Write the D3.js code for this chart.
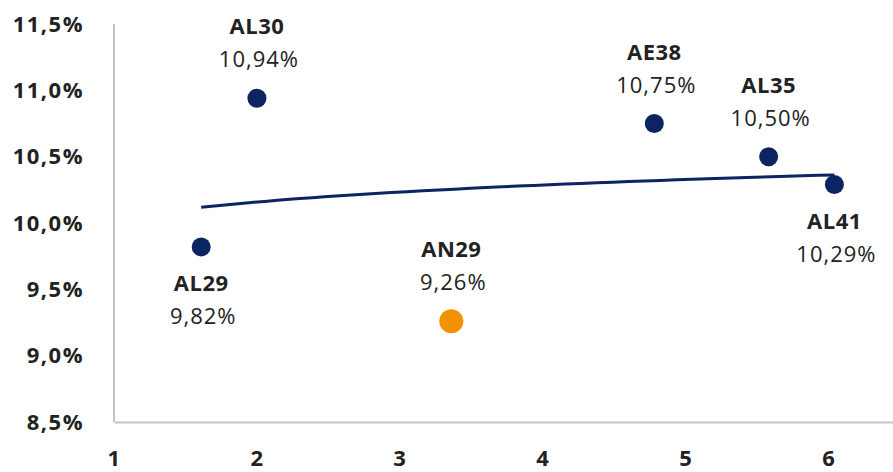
<!DOCTYPE html>
<html>
<head>
<meta charset="utf-8">
<script src="https://d3js.org/d3.v7.min.js"></script>
<style>
  body { margin: 0; background: #fff; }
  text { font-family: "Open Sans", sans-serif; fill: #222; }
</style>
</head>
<body>
<div id="chart"></div>
<script>

// bond names, duration (x) and yield in % (y)
var bonds = ["AL29", "AL30", "AN29", "AE38", "AL35", "AL41"];
var durations = [1.61, 2.0, 3.36, 4.78, 5.58, 6.04];
var yields = [9.82, 10.94, 9.26, 10.75, 10.50, 10.29];
var highlight = ["AN29"];
var labelSide = ["below", "above", "above", "above", "above", "below"];

var xTicks = [1, 2, 3, 4, 5, 6];
var yTicks = [8.5, 9.0, 9.5, 10.0, 10.5, 11.0, 11.5];

var width = 893;
var height = 472;
var navy = "#0c2461";
var orange = "#f39200";

var fmt = function (v, dec) { return v.toFixed(dec).replace(".", ",") + "%"; };

var xScale = d3.scaleLinear()
                .domain([1, 6.45])
                .range([114, 893]);

var yScale = d3.scaleLinear()
                .domain([8.5, 11.5])
                .range([422, 24]);

var svg = d3.select("#chart")
            .append("svg")
            .attr("width", width)
            .attr("height", height);

// axes (no tick marks, just gray lines + labels)
var yAxis = d3.axisLeft(yScale).tickValues(yTicks).tickSize(0).tickPadding(30)
              .tickFormat(function (d) { return fmt(d, 1); });
var xAxis = d3.axisBottom(xScale).tickValues(xTicks).tickSize(0).tickPadding(28)
              .tickFormat(d3.format("d"));

var gy = svg.append("g").attr("transform", "translate(114,0)").call(yAxis);
var gx = svg.append("g").attr("transform", "translate(0,422)").call(xAxis);

[gx, gy].forEach(function (g) {
  g.select(".domain").attr("stroke", "#c4c4c4").attr("stroke-width", 2);
  g.selectAll("text")
   .attr("font-family", "Open Sans, sans-serif")
   .attr("font-size", "22px")
   .attr("font-weight", "bold")
   .attr("letter-spacing", "1.5px")
   .attr("fill", "#222");
});
gy.select(".domain").attr("d", "M0," + yScale(11.5) + "V" + yScale(8.5));

// logarithmic trendline fitted to the points
var lx = durations.map(Math.log);
var mx = d3.mean(lx), my = d3.mean(yields);
var b = d3.sum(lx, function (v, i) { return (v - mx) * (yields[i] - my); }) /
        d3.sum(lx, function (v) { return (v - mx) * (v - mx); });
var a = my - b * mx;
var x0 = d3.min(durations), x1 = d3.max(durations);
var trendX = d3.range(0, 41).map(function (i) { return x0 + (x1 - x0) * i / 40; });

var line = d3.line()
             .x(function (d) { return xScale(d); })
             .y(function (d) { return yScale(a + b * Math.log(d)); });

svg.append("path")
   .attr("d", line(trendX))
   .attr("fill", "none")
   .attr("stroke", navy)
   .attr("stroke-width", 3);

// points
svg.selectAll("circle.pt")
   .data(bonds)
   .enter()
   .append("circle")
   .attr("class", "pt")
   .attr("cx", function (d, i) { return xScale(durations[i]); })
   .attr("cy", function (d, i) { return yScale(yields[i]); })
   .attr("r", function (d) { return highlight.indexOf(d) >= 0 ? 12 : 9.5; })
   .attr("fill", function (d) { return highlight.indexOf(d) >= 0 ? orange : navy; });

// labels
var labels = svg.selectAll("g.lbl")
   .data(bonds)
   .enter()
   .append("g")
   .attr("class", "lbl")
   .attr("transform", function (d, i) {
     return "translate(" + xScale(durations[i]) + "," + yScale(yields[i]) + ")";
   });

labels.append("text")
   .attr("text-anchor", "middle")
   .attr("font-size", "22px")
   .attr("font-weight", "bold")
   .attr("letter-spacing", "0.5px")
   .attr("y", function (d, i) { return labelSide[i] == "above" ? -64 : 44; })
   .text(function (d) { return d; });

labels.append("text")
   .attr("text-anchor", "middle")
   .attr("font-size", "22px")
   .attr("letter-spacing", "1px")
   .attr("x", 2)
   .attr("y", function (d, i) { return labelSide[i] == "above" ? -31 : 77; })
   .text(function (d, i) { return fmt(yields[i], 2); });

</script>
</body>
</html>
